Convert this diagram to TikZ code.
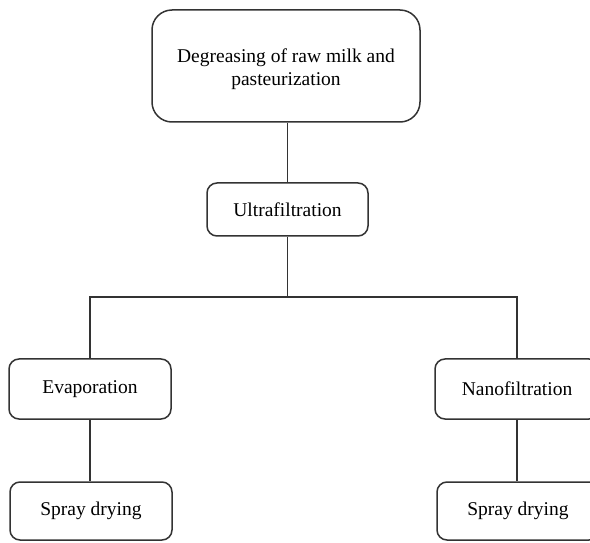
\documentclass[tikz,border=0pt]{standalone}
\usepackage{fontspec}
\setmainfont{Liberation Serif}
\begin{document}
\begin{tikzpicture}[x=1pt,y=1pt,
  box/.style={draw=black!80, line width=1.5pt, rounded corners=10pt, align=center,
    inner sep=0pt, font=\fontsize{19.5}{23}\selectfont},
  conn/.style={draw=black!80, line width=1.5pt}]
\useasboundingbox (0,0) rectangle (590,542);
\clip (0,0) rectangle (590,542);
\node[box, rounded corners=20pt, minimum width=268pt, minimum height=112pt] (top) at (286,476) {};
\node[align=center, font=\fontsize{19.5}{23}\selectfont, inner sep=0pt] (toptext) at (286,473) {Degreasing of raw milk and\\pasteurization};
\node[box, minimum width=161pt, minimum height=53pt] (ultra) at (287.5,332.5) {Ultrafiltration};
\node[box, minimum width=162pt, minimum height=60pt] (evap) at (90,153) {Evaporation};
\node[box, minimum width=164pt, minimum height=60pt] (nano) at (517,153) {Nanofiltration};
\node[box, minimum width=162pt, minimum height=58pt] (spl) at (91,31) {Spray drying};
\node[box, minimum width=162pt, minimum height=58pt] (spr) at (518,31) {Spray drying};
\coordinate (j) at (288,245);
\draw[conn] (top.south -| ultra.north) -- (ultra.north);
\draw[conn] (ultra.south) -- (ultra.south |- j);
\draw[conn] (evap.north) -- (evap.north |- j) -- (nano.north |- j) -- (nano.north);
\draw[conn] (evap.south) -- (evap.south |- spl.north);
\draw[conn] (nano.south) -- (nano.south |- spr.north);
\end{tikzpicture}
\end{document}
